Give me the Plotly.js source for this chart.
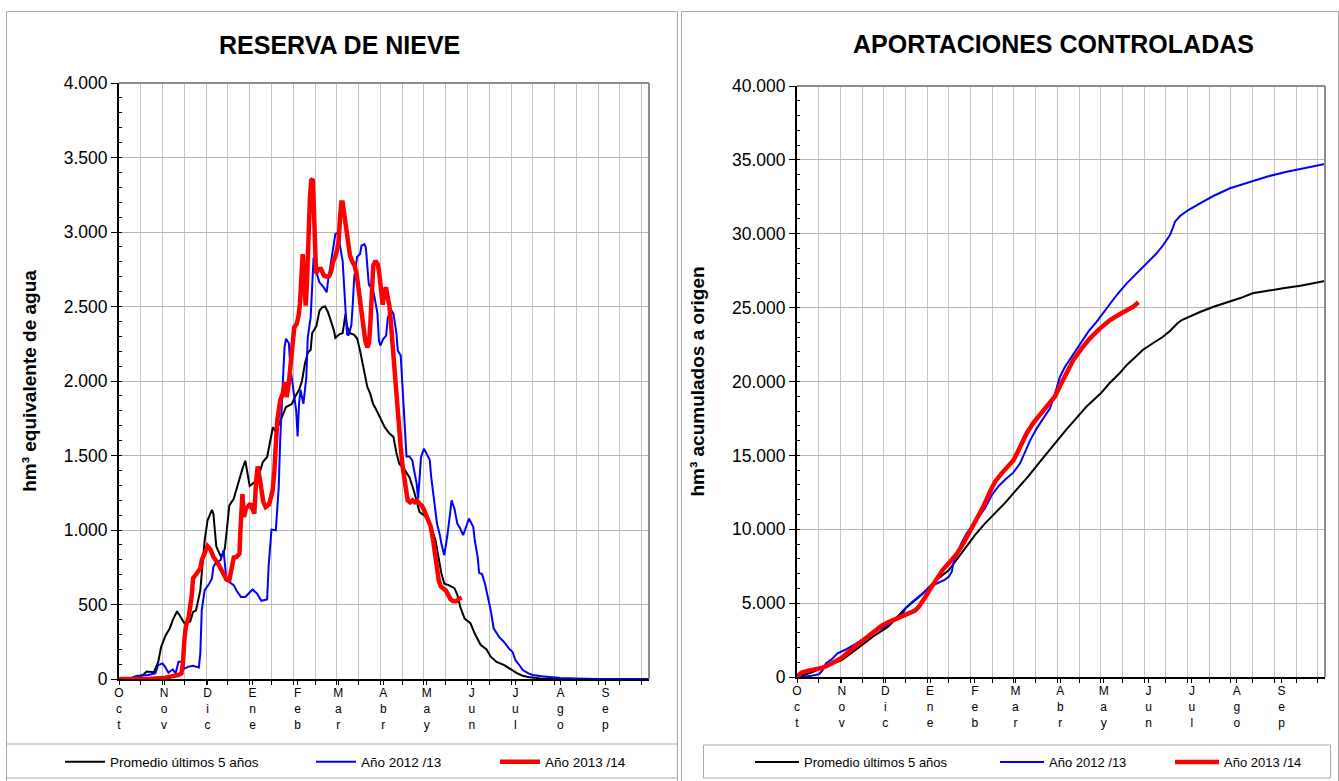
<!DOCTYPE html>
<html><head><meta charset="utf-8">
<script src="https://cdn.plot.ly/plotly-3.0.1.min.js"></script>
<style>html,body{margin:0;padding:0;background:#fff;} #chart{width:1339px;height:781px;}</style>
</head><body><div id="chart"></div>
<script>
// ---- categories / tick labels ----
const monthNames = ['Oct','Nov','Dic','Ene','Feb','Mar','Abr','May','Jun','Jul','Ago','Sep'];
const monthStartDays = [0,31,61,92,123,151,182,212,243,273,304,335];
const seriesNames = ['Promedio últimos 5 años','Año 2012 /13','Año 2013 /14'];
const chartTitles = ['RESERVA DE NIEVE','APORTACIONES CONTROLADAS'];
const yTitles = ['hm³ equivalente de agua','hm³ acumulados a origen'];

// ---- RESERVA DE NIEVE (hm³), x = day of hydrological year (1 Oct = 0) ----
const nieveProm_x = [0,11,17,19,24,27,29,32,35,37,40,43,45,49,51,53,56,57,59,61,64,65,67,70,72,73,75,76,79,81,83,85,87,89,90,92,95,97,99,102,104,106,108,112,115,119,121,124,126,128,130,132,133,136,138,140,142,144,146,148,149,152,154,156,157,159,162,164,166,169,171,173,175,177,180,183,186,189,191,193,197,200,203,205,207,210,213,215,218,220,222,224,227,231,233,235,238,242,245,249,253,256,260,265,269,274,278,283,290,300,365];
const nieveProm_y = [0,5,30,50,45,115,215,290,340,395,455,405,375,385,450,460,595,710,930,1065,1135,1110,890,825,840,885,1045,1165,1210,1280,1355,1410,1465,1335,1295,1310,1335,1390,1455,1490,1600,1690,1660,1755,1825,1845,1890,1940,2000,2115,2190,2210,2320,2370,2470,2495,2500,2460,2405,2340,2290,2315,2320,2450,2370,2320,2310,2285,2205,2070,1960,1915,1845,1810,1750,1690,1650,1625,1520,1445,1400,1355,1265,1200,1120,1100,1065,1020,930,820,710,640,630,610,565,485,405,375,305,230,200,150,115,95,70,40,22,11,4,0,0];

const nieve1213_x = [0,8,12,20,25,27,30,32,34,37,39,41,43,45,48,51,55,56,57,59,62,64,65,67,70,72,74,76,79,81,84,87,89,92,95,98,102,103,105,108,110,111,113,114,115,117,118,120,122,123,124,125,126,127,129,130,132,133,134,135,137,138,141,143,144,146,148,149,151,152,154,155,156,157,158,160,161,162,164,166,167,169,170,172,173,174,176,178,179,180,182,184,185,187,189,191,192,194,195,196,197,198,200,202,203,205,206,207,208,210,212,214,215,217,219,221,222,224,226,228,229,231,233,235,237,239,241,244,245,247,248,250,252,254,256,258,260,262,265,267,269,271,273,276,278,282,285,291,297,304,315,330,365];
const nieve1213_y = [0,5,20,27,38,94,105,78,42,65,38,116,116,69,83,89,78,172,462,596,637,675,752,786,797,864,663,652,630,592,551,551,574,601,574,525,534,752,1003,998,1289,1600,2025,2226,2283,2253,2093,1936,1802,1628,1847,1941,1891,1847,2025,2293,2427,2651,2829,2762,2684,2662,2628,2595,2673,2807,2908,2986,2997,2919,2807,2651,2472,2316,2305,2372,2517,2696,2834,2852,2908,2919,2896,2651,2633,2651,2562,2450,2271,2238,2283,2305,2417,2484,2450,2327,2204,2171,2003,1800,1601,1494,1494,1467,1411,1311,1211,1333,1489,1546,1512,1472,1356,1199,1043,965,909,831,953,1110,1199,1144,1043,1010,965,1020,1077,1020,931,819,712,704,641,551,462,340,306,279,250,223,199,183,127,89,60,38,27,18,11,7,3,0,0];

const nieve1314_x = [0,20,32,37,41,43,44,45,46,48,50,51,54,56,57,59,61,63,65,68,70,72,74,76,77,79,81,83,83.5,84.3,85,86,87.5,89,90.4,91.8,93.2,94.3,95.5,96.6,97.8,99.4,101,103.3,104.7,105.8,107,108,109,111,112.7,114.3,115.5,116.9,118.2,119.6,120.7,122.4,123.7,124.6,125.5,126.5,127.2,127.9,128.6,129.5,130.4,131.5,132.4,133.4,134.1,134.8,135.7,137.3,139.1,141.2,143,144.8,146.2,147.6,149,150.3,151.3,152.2,153.1,154,155.1,156.3,157.5,159.1,160.7,162.3,163.7,165.1,166.4,168,169.6,171,172.2,173.1,174,175.1,176.5,178.2,179.3,180.4,181.6,182.7,183.9,185,186.2,187.3,188.5,189.6,190.8,192.4,194,195.4,196.5,197.6,198.8,200.4,202.2,203.8,205.4,206.8,208.4,210,211.4,213,214.6,216,217.1,218.1,219,220.2,221.5,223.3,225.2,226.8,228.4,230.2,232.1,233.9,236];
const nieve1314_y = [0,0,9,16,27,38,105,261,350,417,551,675,712,741,797,853,891,869,819,779,741,704,668,663,730,815,819,842,976,1121,1240,1088,1144,1159,1177,1144,1110,1311,1427,1367,1266,1188,1154,1172,1221,1266,1400,1556,1735,1869,1914,1992,1891,1981,2115,2283,2360,2383,2439,2517,2740,2852,2696,2528,2506,2673,2986,3231,3348,3355,3187,2896,2722,2752,2752,2707,2700,2705,2740,2807,2834,2886,2941,3097,3198,3198,3109,3008,2919,2841,2801,2774,2714,2606,2484,2360,2271,2226,2253,2383,2584,2774,2807,2785,2718,2606,2512,2606,2628,2562,2506,2383,2226,2050,1880,1713,1556,1422,1333,1244,1199,1186,1199,1186,1195,1177,1164,1137,1099,1077,1025,953,876,809,735,663,623,608,592,563,534,521,521,536,547];

// ---- APORTACIONES CONTROLADAS (hm³ acumulados) ----
const aportProm_x = [0,10,22,31,45,54,63,75,86,95,105,114,123,130,137,144,151,160,169,178,181,186,193,200,210,216,223,228,233,239,246,253,258,263,266,272,279,288,297,306,315,325,336,348,365];
const aportProm_y = [0,300,810,1150,2170,2840,3410,4650,5550,6450,7240,8400,9600,10400,11100,11800,12600,13600,14700,15800,16160,16720,17510,18290,19200,19880,20560,21120,21570,22130,22590,23030,23440,23940,24160,24430,24720,25060,25330,25630,25970,26150,26310,26480,26800];

const aport1213_x = [0,9,15,17.5,20,24,28,33,40,47,56,63,70,73,75,79,84,88.5,93,98,102,105,107,108.3,110.4,113.8,117.3,120.8,125.3,130,134.6,139.2,143.8,149.5,154.2,157.6,161.1,165.7,170.3,174.9,178.4,181.8,185.3,189.9,195.6,201.4,207.2,214.1,221,227.9,233.7,240.6,248.6,253.2,257.8,259.7,261.3,264.8,270.5,278.6,287.8,299.3,310.9,324.7,338.5,352.3,365];
const aport1213_y = [0,60,180,430,925,1196,1602,1827,2210,2617,3181,3519,4015,4264,4647,5031,5437,5820,6159,6385,6565,6791,7129,7806,8325,9091,9723,10174,10806,11415,12300,12900,13350,13829,14461,15253,16000,16830,17509,18185,19201,20325,21002,21679,22470,23370,24047,24953,25854,26645,27208,27884,28676,29238,29915,30366,30816,31200,31606,32061,32554,33077,33454,33860,34199,34469,34720];

const aport1314_x = [0,3,8,12,17,22,26,31,35.5,40,45,49,54,58.5,63,68,72.4,77,81.6,84.3,86.6,89.6,93.1,96.6,101,105.8,110.4,115,119.6,124.2,128.8,133.4,136.9,141.5,146.1,149.5,151.9,155.3,158.8,163.4,170.3,174.9,178.4,181.8,186.4,191,196.8,202.5,209.5,216.4,223.3,229.1,232.5,236];
const aport1314_y = [0,293,429,519,609,812,1038,1308,1692,2053,2369,2730,3181,3474,3700,3903,4128,4309,4489,4760,5166,5550,6114,6677,7287,7806,8325,9046,9836,10626,11527,12540,13218,13784,14235,14650,15100,15800,16500,17200,18000,18500,19000,19700,20663,21454,22245,22923,23600,24162,24568,24839,25062,25360];

// ---- styling ----
const W = 1339, H = 781;
const px = v => v / W, py = v => 1 - v / H;
const FONT = 'Liberation Sans, Arial, sans-serif';
const colors = ['#000000', '#0000ff', '#ff0000'];
const widths = [2, 2, 4.5];
const legendWidths = {legend: [196, 129, 100], legend2: [186, 116, 100]};
const monthTicks = monthNames.map(m => m.split('').join('<br>'));

function mk(x, y, i, xa, ya, leg) {
  return {x: x, y: y, type: 'scatter', mode: 'lines', name: seriesNames[i],
    line: {color: colors[i], width: widths[i]}, xaxis: xa, yaxis: ya,
    legend: leg, legendwidth: legendWidths[leg][i], hoverinfo: 'skip'};
}
const traces = [
  mk(nieveProm_x, nieveProm_y, 0, 'x', 'y', 'legend'),
  mk(nieve1213_x, nieve1213_y, 1, 'x', 'y', 'legend'),
  mk(nieve1314_x, nieve1314_y, 2, 'x', 'y', 'legend'),
  mk(aportProm_x, aportProm_y, 0, 'x2', 'y2', 'legend2'),
  mk(aport1213_x, aport1213_y, 1, 'x2', 'y2', 'legend2'),
  mk(aport1314_x, aport1314_y, 2, 'x2', 'y2', 'legend2')
];

function xAxis(d0, d1, anchor) {
  return {domain: [px(d0), px(d1)], anchor: anchor, range: [0, 365],
    tickmode: 'array', tickvals: monthStartDays, ticktext: monthTicks,
    ticks: 'outside', ticklen: 4, tickcolor: '#000', tickwidth: 1, ticklabelstandoff: -2,
    showgrid: false, zeroline: false, showline: true, linecolor: '#000', linewidth: 2,
    layer: 'below traces', fixedrange: true,
    tickfont: {family: FONT, size: 12, color: '#000'},
    minor: {tickmode: 'linear', tick0: 0, dtick: 15, showgrid: true, gridcolor: '#c4c4c4', gridwidth: 1,
            ticks: 'outside', ticklen: 4, tickcolor: '#000'}};
}
function yAxis(t, b, anchor, max, dt, mdt, title, standoff) {
  return {domain: [py(b), py(t)], anchor: anchor, range: [0, max], tickmode: 'linear', tick0: 0, dtick: dt,
    tickformat: ',d', ticks: 'outside', ticklen: 6, tickcolor: '#000', tickwidth: 1,
    showgrid: true, gridcolor: '#b4b4b4', gridwidth: 1, zeroline: false,
    showline: true, linecolor: '#000', linewidth: 2, layer: 'below traces', fixedrange: true,
    tickfont: {family: FONT, size: 17.5, color: '#000'},
    minor: {tickmode: 'linear', tick0: 0, dtick: mdt, ticks: 'inside', ticklen: 3, tickcolor: '#000', showgrid: false},
    title: {text: '<b>' + title + '</b>', font: {family: FONT, size: 19, color: '#000'}, standoff: standoff}};
}

const frameLine = {color: '#a8a8a8', width: 1};
const shapes = [
  {type: 'rect', xref: 'paper', yref: 'paper', x0: px(6.5), x1: px(677.5), y0: py(790), y1: py(11.5), line: frameLine},
  {type: 'rect', xref: 'paper', yref: 'paper', x0: px(681.5), x1: px(1338.5), y0: py(790), y1: py(11.5), line: frameLine},
  {type: 'rect', xref: 'paper', yref: 'paper', x0: px(6.5), x1: px(677.5), y0: py(778), y1: py(744), line: frameLine},
  {type: 'rect', xref: 'paper', yref: 'paper', x0: px(703.5), x1: px(1330.5), y0: py(778), y1: py(745), line: frameLine},
  {type: 'line', xref: 'x domain', yref: 'y domain', x0: 0, x1: 1, y0: 1, y1: 1, line: {color: '#8c8c8c', width: 2}},
  {type: 'line', xref: 'x domain', yref: 'y domain', x0: 1, x1: 1, y0: 0, y1: 1, line: {color: '#8c8c8c', width: 2}},
  {type: 'line', xref: 'x2 domain', yref: 'y2 domain', x0: 0, x1: 1, y0: 1, y1: 1, line: {color: '#8c8c8c', width: 2}},
  {type: 'line', xref: 'x2 domain', yref: 'y2 domain', x0: 1, x1: 1, y0: 0, y1: 1, line: {color: '#8c8c8c', width: 2}}
];

const legendBase = {orientation: 'h', xanchor: 'left', yanchor: 'middle', bgcolor: 'rgba(0,0,0,0)',
  borderwidth: 0, itemclick: false, itemdoubleclick: false};

const layout = {
  width: W, height: H, margin: {l: 0, r: 0, t: 0, b: 0, pad: 0},
  paper_bgcolor: '#ffffff', plot_bgcolor: '#ffffff', separators: ',.',
  font: {family: FONT, color: '#000'},
  xaxis: xAxis(119, 649, 'y'),
  yaxis: yAxis(83, 679, 'x', 4000, 500, 100, yTitles[0], 22),
  xaxis2: xAxis(797, 1325, 'y2'),
  yaxis2: yAxis(86, 677, 'x2', 40000, 5000, 1000, yTitles[1], 22),
  showlegend: true,
  legend: Object.assign({}, legendBase, {x: px(60), y: py(762), itemwidth: 40, font: {family: FONT, size: 13.5, color: '#000'}}),
  legend2: Object.assign({}, legendBase, {x: px(750), y: py(762), itemwidth: 44, font: {family: FONT, size: 13, color: '#000'}}),
  annotations: [
    {text: '<b>' + chartTitles[0] + '</b>', xref: 'paper', yref: 'paper', x: px(339.5), y: py(45), xanchor: 'center', yanchor: 'middle', showarrow: false, font: {family: FONT, size: 25, color: '#000'}},
    {text: '<b>' + chartTitles[1] + '</b>', xref: 'paper', yref: 'paper', x: px(1053), y: py(44), xanchor: 'center', yanchor: 'middle', showarrow: false, font: {family: FONT, size: 25, color: '#000'}}
  ],
  shapes: shapes
};

Plotly.newPlot('chart', traces, layout, {displayModeBar: false, staticPlot: true});
</script>
</body></html>
